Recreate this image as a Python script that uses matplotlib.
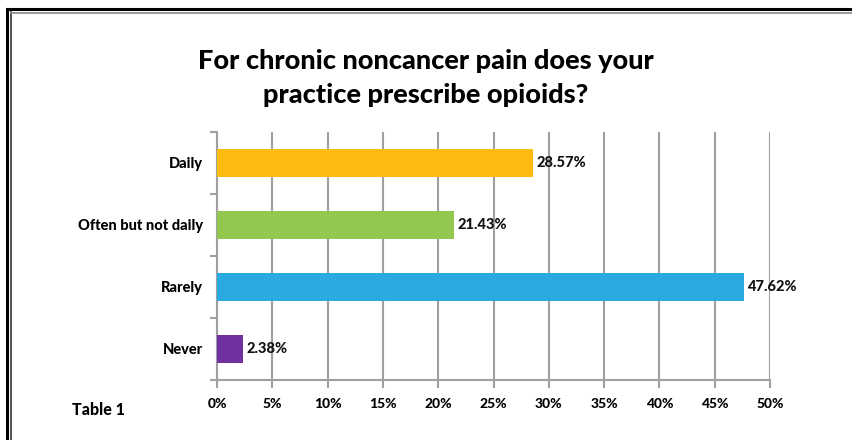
import matplotlib.pyplot as plt
import numpy as np
from matplotlib.lines import Line2D

plt.rcParams['font.family'] = ['Lato', 'DejaVu Sans']

# datos
categorias = ["Daily", "Often but not daily", "Rarely", "Never"]
valores = [28.57, 21.43, 47.62, 2.38]
etiquetas = ["28.57%", "21.43%", "47.62%", "2.38%"]
colores = ["#fdbb12", "#92c84e", "#29abe2", "#7030a0"]
ticks_x = [0, 5, 10, 15, 20, 25, 30, 35, 40, 45, 50]

fig = plt.figure(figsize=(8.52, 4.4), dpi=100)
ax = fig.add_axes([0.2547, 0.1364, 0.6491, 0.5636])

y = np.arange(len(categorias))
ax.barh(y, valores, height=0.44, color=colores, zorder=3)
for yi, v, lab in zip(y, valores, etiquetas):
    ax.text(v + 0.3, yi, lab, va='center', ha='left', fontsize=10.5,
            fontweight='black', color='#111111', zorder=4)

ax.set_xlim(0, 50)
ax.set_ylim(len(categorias) - 0.5, -0.5)
ax.set_xticks(ticks_x)
ax.set_xticklabels([f"{t}%" for t in ticks_x], fontsize=10, fontweight='black')
ax.set_yticks(y)
ax.set_yticklabels(categorias, fontsize=10.5, fontweight='black')
ax.tick_params(axis='y', length=0, pad=10)
ax.tick_params(axis='x', length=6, width=1.5, color='#a0a0a0', pad=7)

# ticks del eje y en los limites de categorias
ax.set_yticks(np.arange(-0.5, len(categorias)), minor=True)
ax.tick_params(axis='y', which='minor', length=5, width=1.5, color='#a0a0a0')

ax.grid(axis='x', color='#a0a0a0', linewidth=1.5, zorder=0)
for s in ['top', 'right']:
    ax.spines[s].set_visible(False)
for s in ['left', 'bottom']:
    ax.spines[s].set_color('#a0a0a0')
    ax.spines[s].set_linewidth(1.5)

fig.text(0.5, 0.862, "For chronic noncancer pain does your", ha='center', va='center',
         fontsize=19.5, fontweight='black')
fig.text(0.5, 0.783, "practice prescribe opioids?", ha='center', va='center',
         fontsize=19.5, fontweight='black')
fig.text(0.085, 0.068, "Table 1", ha='left', va='center', fontsize=11.5, fontweight='black')

# marco
fig.add_artist(Line2D([6.5/852, 6.5/852], [0, 1 - 9/440], color='black', lw=2.2))
fig.add_artist(Line2D([11/852, 11/852], [0, 1 - 12/440], color='#333333', lw=1.2))
fig.add_artist(Line2D([6.5/852, 1], [1 - 9/440, 1 - 9/440], color='black', lw=2.2))
fig.add_artist(Line2D([11/852, 1], [1 - 13/440, 1 - 13/440], color='#888888', lw=1.2))

fig.savefig("out.png", dpi=100)
